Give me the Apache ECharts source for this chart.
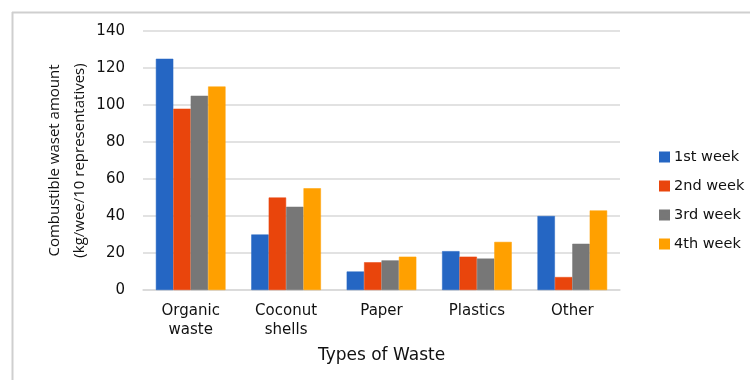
<!DOCTYPE html>
<html>
<head>
<meta charset="utf-8">
<script src="https://cdn.jsdelivr.net/npm/echarts@6/dist/echarts.min.js"></script>
<style>
  html, body { margin: 0; padding: 0; background: #fff; }
  #main { width: 750px; height: 380px; }
</style>
</head>
<body>
<div id="main"></div>
<script>
var categories = ['Organic\nwaste', 'Coconut\nshells', 'Paper', 'Plastics', 'Other'];
var week1 = [125, 30, 10, 21, 40];
var week2 = [98, 50, 15, 18, 7];
var week3 = [105, 45, 16, 17, 25];
var week4 = [110, 55, 18, 26, 43];
var weekNames = ['1st week', '2nd week', '3rd week', '4th week'];
var colors = ['#2566c3', '#e9450c', '#777777', '#ffa000'];

var chart = echarts.init(document.getElementById('main'));

function bar(name, data, color) {
  return {
    name: name,
    type: 'bar',
    data: data,
    barGap: 0,
    barCategoryGap: '27%',
    itemStyle: { color: color, borderColor: color, borderWidth: 0.5 }
  };
}

var font = '"DejaVu Sans", sans-serif';

var option = {
  animation: false,
  textStyle: { fontFamily: font },
  // light frame at top-left like the original image
  graphic: [
    { type: 'line', shape: { x1: 12, y1: 12.5, x2: 750, y2: 12.5 }, style: { stroke: '#cfcfcf', lineWidth: 2 } },
    { type: 'line', shape: { x1: 12.5, y1: 12, x2: 12.5, y2: 380 }, style: { stroke: '#cfcfcf', lineWidth: 2 } }
  ],
  grid: { left: 143, right: 130, top: 31, bottom: 90 },
  legend: {
    orient: 'vertical',
    left: 654,
    top: 143,
    itemWidth: 9,
    itemHeight: 9,
    itemGap: 11,
    icon: 'rect',
    data: weekNames,
    textStyle: { fontSize: 14.5, color: '#111', fontFamily: font, lineHeight: 18 }
  },
  xAxis: {
    type: 'category',
    data: categories,
    name: 'Types of Waste',
    nameLocation: 'middle',
    nameGap: 57,
    nameMoveOverlap: false,
    nameTextStyle: { fontSize: 17, color: '#111' },
    axisLine: { lineStyle: { color: '#d9d9d9', width: 1.5 } },
    axisTick: { show: false },
    axisLabel: { fontSize: 15, color: '#111', lineHeight: 19, margin: 12 }
  },
  yAxis: {
    type: 'value',
    min: 0,
    max: 140,
    interval: 20,
    name: 'Combustible waset amount\n(kg/wee/10 representatives)',
    nameLocation: 'middle',
    nameGap: 51,
    nameMoveOverlap: false,
    nameTextStyle: { fontSize: 15, color: '#111', lineHeight: 25, fontFamily: '"Open Sans", sans-serif' },
    axisLine: { show: false },
    axisTick: { show: false },
    axisLabel: { fontSize: 15, color: '#111', margin: 18 },
    splitLine: { lineStyle: { color: '#d9d9d9', width: 1.5 } }
  },
  series: [
    bar(weekNames[0], week1, colors[0]),
    bar(weekNames[1], week2, colors[1]),
    bar(weekNames[2], week3, colors[2]),
    bar(weekNames[3], week4, colors[3])
  ]
};

chart.setOption(option);
</script>
</body>
</html>
